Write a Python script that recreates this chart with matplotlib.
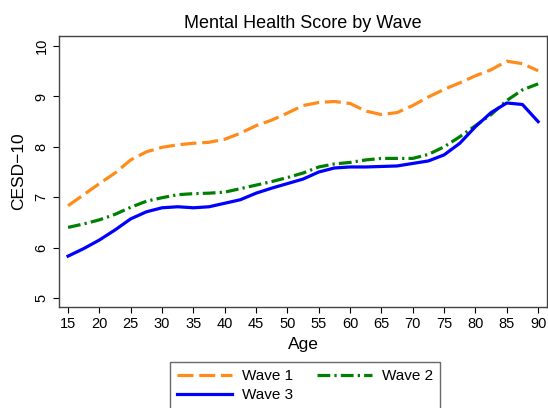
import numpy as np
import matplotlib.pyplot as plt

plt.rcParams['font.family'] = ['Liberation Sans', 'DejaVu Sans']

# Smoothed CESD-10 score by age, one series per survey wave
age = [15, 17.5, 20, 22.5, 25, 27.5, 30, 32.5, 35, 37.5, 40, 42.5, 45, 47.5,
       50, 52.5, 55, 57.5, 60, 62.5, 65, 67.5, 70, 72.5, 75, 77.5, 80, 82.5,
       85, 87.5, 90]
wave1 = [6.83, 7.05, 7.27, 7.48, 7.74, 7.90, 7.99, 8.04, 8.07, 8.09, 8.15,
         8.27, 8.42, 8.53, 8.67, 8.82, 8.88, 8.90, 8.86, 8.71, 8.64, 8.68,
         8.82, 8.99, 9.14, 9.27, 9.41, 9.53, 9.70, 9.65, 9.51]
wave2 = [6.40, 6.47, 6.55, 6.66, 6.80, 6.92, 6.99, 7.05, 7.07, 7.08, 7.10,
         7.17, 7.24, 7.31, 7.39, 7.48, 7.60, 7.66, 7.69, 7.74, 7.77, 7.77,
         7.77, 7.85, 8.00, 8.20, 8.42, 8.64, 8.92, 9.13, 9.25]
wave3 = [5.83, 5.98, 6.15, 6.35, 6.57, 6.71, 6.79, 6.81, 6.79, 6.81, 6.88,
         6.95, 7.08, 7.18, 7.27, 7.36, 7.50, 7.58, 7.60, 7.60, 7.61, 7.62,
         7.67, 7.72, 7.84, 8.07, 8.40, 8.68, 8.87, 8.84, 8.50]

xticks = np.arange(15, 91, 5)
yticks = np.arange(5, 11, 1)

fig = plt.figure(figsize=(5.48, 4.08), dpi=100)
ax = fig.add_axes([0.1077, 0.2475, 0.8903, 0.6643])

lw = 2.3
l1, = ax.plot(age, wave1, color='#ff8c1a', lw=lw, dashes=(5, 1.8), label='Wave 1')
l2, = ax.plot(age, wave2, color='#008000', lw=lw, dashes=(4, 1.3, 0.7, 1.3), label='Wave 2')
l3, = ax.plot(age, wave3, color='#0000ff', lw=lw, label='Wave 3')

ax.set_xlim(13.56, 91.4)
ax.set_ylim(4.82, 10.2)
ax.set_xticks(xticks)
ax.set_yticks(yticks)
ax.tick_params(axis='both', direction='out', length=4, width=0.8,
               labelsize=10.5, top=False, right=False)
plt.setp(ax.get_yticklabels(), rotation=90, va='center')
for s in ax.spines.values():
    s.set_color('#444444')
    s.set_linewidth(1.0)

ax.set_title('Mental Health Score by Wave', fontsize=13, pad=6)
ax.set_xlabel('Age', fontsize=12.5, labelpad=4)
ax.set_ylabel('CESD\u221210', fontsize=12.5, labelpad=6)

# rows: Wave 1 | Wave 2, then Wave 3 alone
leg = fig.legend([l1, l3, l2], ['Wave 1', 'Wave 3', 'Wave 2'],
                 loc='upper left', bbox_to_anchor=(0.31, 0.1127), ncol=2,
                 fontsize=11, frameon=True, fancybox=False, handlelength=3.6,
                 handletextpad=0.65, columnspacing=1.6, borderpad=0.45,
                 labelspacing=0.35, borderaxespad=0, edgecolor='#444444')
leg.get_frame().set_linewidth(1.0)

fig.savefig('out.png', dpi=100)
